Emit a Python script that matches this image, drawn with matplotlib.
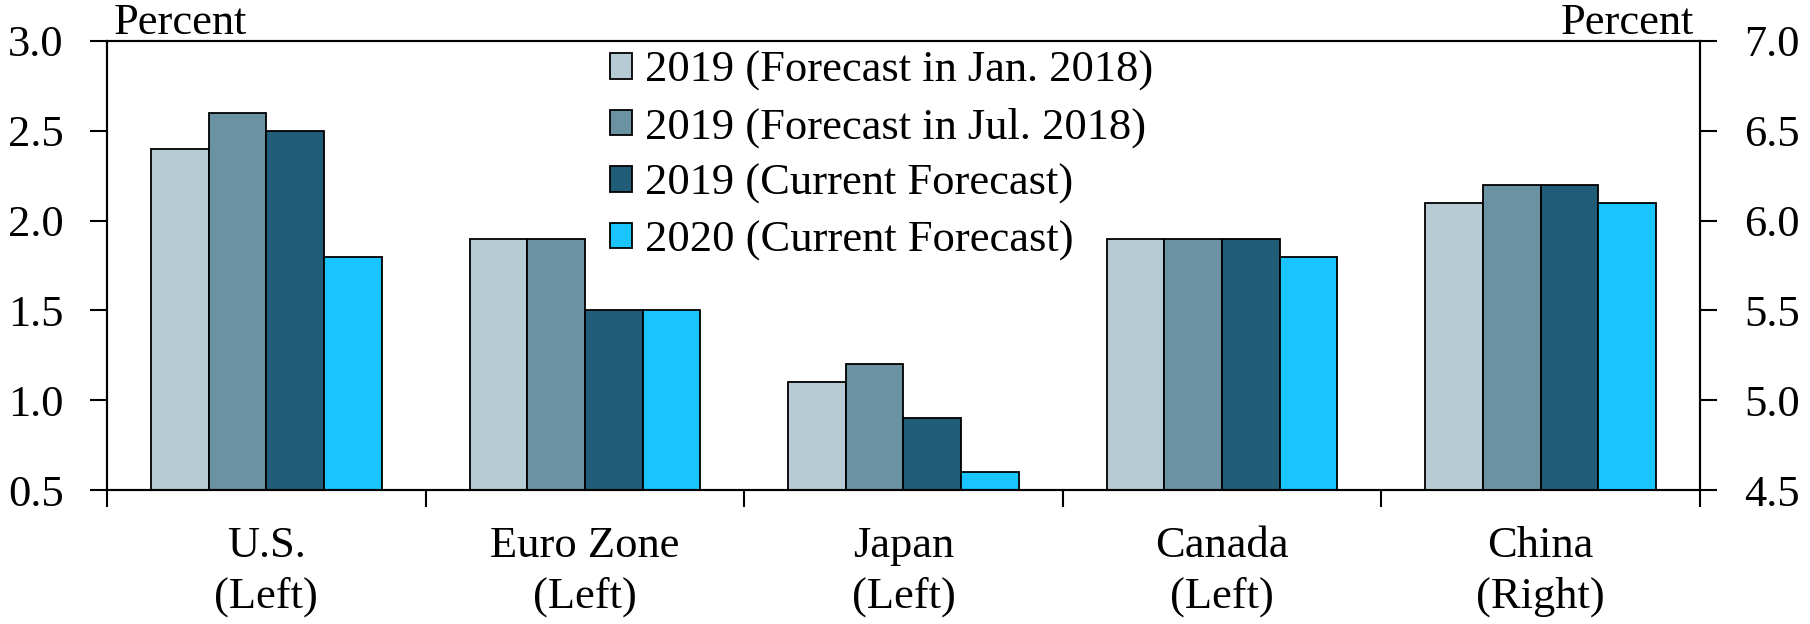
import numpy as np
import matplotlib
matplotlib.use('Agg')
import matplotlib.pyplot as plt

plt.rcParams['font.family'] = ['Liberation Serif', 'DejaVu Serif']

# regiones y pronósticos (%), China va en el eje derecho
regions = ['U.S.\n(Left)', 'Euro Zone\n(Left)', 'Japan\n(Left)', 'Canada\n(Left)', 'China\n(Right)']
series = ['2019 (Forecast in Jan. 2018)', '2019 (Forecast in Jul. 2018)',
          '2019 (Current Forecast)', '2020 (Current Forecast)']
jan2018 = [2.4, 1.9, 1.1, 1.9, 6.1]
jul2018 = [2.6, 1.9, 1.2, 1.9, 6.2]
cur2019 = [2.5, 1.5, 0.9, 1.9, 6.2]
cur2020 = [1.8, 1.5, 0.6, 1.8, 6.1]
colors = ['#B7CBD4', '#6A92A3', '#215C78', '#1AC5FF']

left_ticks = [0.5, 1.0, 1.5, 2.0, 2.5, 3.0]
right_ticks = [4.5, 5.0, 5.5, 6.0, 6.5, 7.0]

fs = 32
fig = plt.figure(figsize=(18.1, 6.24), dpi=100)
ax = fig.add_axes([0.0591, 0.2147, 0.8801, 0.7196])
ax2 = ax.twinx()

x = np.arange(len(regions))
w = 0.181
data = [jan2018, jul2018, cur2019, cur2020]
handles = []
for i, vals in enumerate(data):
    off = (i - 1.5) * w
    # primeras 4 regiones en el eje izquierdo
    b = ax.bar(x[:4] + off, vals[:4], w, color=colors[i],
               edgecolor='black', linewidth=1.3, label=series[i])
    ax2.bar(x[4] + off, vals[4], w, color=colors[i], edgecolor='black', linewidth=1.3)
    handles.append(b)

ax.set_ylim(0.5, 3.0)
ax2.set_ylim(4.5, 7.0)
ax.set_xlim(-0.5, 4.5)
ax.set_yticks(left_ticks)
ax.set_yticklabels(['%.1f' % t for t in left_ticks])
ax2.set_yticks(right_ticks)
ax2.set_yticklabels(['%.1f' % t for t in right_ticks])

ax.set_xticks(x)
ax.set_xticklabels(regions, fontsize=fs, linespacing=1.35)
ax.set_xticks(np.arange(-0.5, 5, 1), minor=True)
ax.tick_params(axis='x', which='major', length=0, pad=26)
ax.tick_params(axis='x', which='minor', length=12, width=1.5, direction='out')
ax.tick_params(axis='y', length=12, width=1.5, direction='out', pad=19, labelsize=fs)
ax2.tick_params(axis='y', length=12, width=1.5, direction='out', pad=20, labelsize=fs)

for a in (ax, ax2):
    for s in a.spines.values():
        s.set_linewidth(1.5)

ax.text(0.004, 0.995, 'Percent', transform=ax.transAxes, fontsize=fs, ha='left', va='bottom')
ax.text(0.996, 0.995, 'Percent', transform=ax.transAxes, fontsize=fs, ha='right', va='bottom')

fig.legend(handles=handles, labels=series, loc='upper left', bbox_to_anchor=(0.327, 0.947),
           frameon=False, fontsize=fs, handlelength=0.5, handleheight=0.5,
           handletextpad=0.3, labelspacing=0.36, borderaxespad=0)

fig.savefig('out.png', dpi=100)
